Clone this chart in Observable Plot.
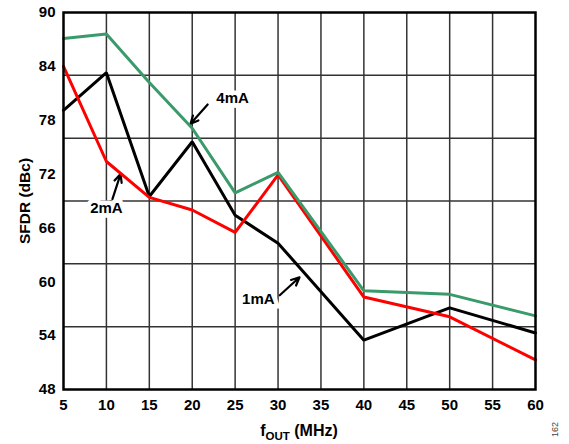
<!DOCTYPE html>
<html><head><meta charset="utf-8">
<script src="https://cdn.jsdelivr.net/npm/d3@7"></script>
<script src="https://cdn.jsdelivr.net/npm/@observablehq/plot@0.6"></script>
<style>body{margin:0;background:#fff;font-family:"Liberation Sans",Arial,sans-serif;}</style>
</head><body><div id="chart"></div>
<script>
const fout = [5, 10, 15, 20, 25, 30, 40, 50, 60];
const sfdr1mA = [79.1, 83.3, 69.5, 75.6, 67.4, 64.3, 53.5, 57.1, 54.3];
const sfdr2mA = [84.0, 73.4, 69.4, 68.0, 65.5, 71.9, 58.3, 56.1, 51.3];
const sfdr4mA = [87.1, 87.6, 82.2, 77.1, 69.9, 72.2, 59.0, 58.6, 56.2];
const seriesNames = ["1mA", "2mA", "4mA"];
const seriesColors = ["#000000", "#ff0000", "#3a9a6a"];
const yTickLabels = [48, 54, 60, 66, 72, 78, 84, 90];
const yGrid = [55, 62, 69, 76, 83];
const xTickLabels = [5, 10, 15, 20, 25, 30, 35, 40, 45, 50, 55, 60];
const xGrid = [10, 15, 20, 25, 30, 35, 40, 45, 50, 55];
// annotations (data coordinates)
const labels = [
  {text: "4mA", x: 24.7, y: 80.5},
  {text: "2mA", x: 10.0, y: 68.2},
  {text: "1mA", x: 27.7, y: 58.1}
];
const arrows = [
  {x1: 21.8, y1: 79.75, x2: 19.8, y2: 77.6},
  {x1: 10.7, y1: 69.2, x2: 11.65, y2: 72.0},
  {x1: 30.2, y1: 58.5, x2: 32.5, y2: 60.5}
];

const rows = [];
const allSeries = [sfdr1mA, sfdr2mA, sfdr4mA];
seriesNames.forEach((s, i) => fout.forEach((f, j) => rows.push({series: s, f, v: allSeries[i][j]})));

const font = "Liberation Sans, Arial, sans-serif";
const chart = Plot.plot({
  width: 569, height: 444,
  marginLeft: 63, marginTop: 12, marginRight: 34, marginBottom: 55,
  style: {fontFamily: font, fontSize: "15px", fontWeight: "bold", color: "#000", background: "#fff"},
  x: {domain: [5, 60]},
  y: {domain: [48, 90]},
  color: {domain: seriesNames, range: seriesColors},
  marks: [
    Plot.ruleY(yGrid, {stroke: "#333", strokeWidth: 1.5}),
    Plot.ruleX(xGrid, {stroke: "#333", strokeWidth: 1.5}),
    Plot.text(labels, {x: "x", y: "y", text: "text", fontSize: 15, fontWeight: "bold", fill: "#000", stroke: "#fff", strokeWidth: 9, strokeLinejoin: "miter"}),
    Plot.arrow(arrows, {x1: "x1", y1: "y1", x2: "x2", y2: "y2", stroke: "#000", strokeWidth: 2.2, headLength: 9, headAngle: 50}),
    Plot.line(rows, {x: "f", y: "v", z: "series", stroke: "series", strokeWidth: 3, strokeLinejoin: "miter"}),
    Plot.frame({stroke: "#000", strokeWidth: 2.5}),
    Plot.axisY(yTickLabels, {tickSize: 0, tickPadding: 8, label: null, fontSize: 15, fontWeight: "bold"}),
    Plot.axisX(xTickLabels, {tickSize: 0, tickPadding: 10, label: null, fontSize: 15, fontWeight: "bold"}),
    Plot.text(["SFDR (dBc)"], {frameAnchor: "left", textAnchor: "middle", rotate: -90, dx: -38, fontSize: 15.5, fontWeight: "bold", fill: "#000"}),
    Plot.text(["162"], {frameAnchor: "bottom-right", textAnchor: "middle", dx: 22, dy: 40, rotate: -90, fontSize: 9, fontWeight: "normal", fill: "#444"})
  ]
});
document.getElementById("chart").appendChild(chart);
// x axis label with subscript
const svg = d3.select(chart);
const t = svg.append("text")
  .attr("x", 299).attr("y", 436)
  .attr("text-anchor", "middle")
  .attr("font-family", font).attr("font-size", 16).attr("font-weight", "bold").attr("fill", "#000");
t.append("tspan").text("f");
t.append("tspan").attr("font-size", 11.5).attr("dy", 4).text("OUT");
t.append("tspan").attr("dy", -4).text(" (MHz)");
</script></body></html>
